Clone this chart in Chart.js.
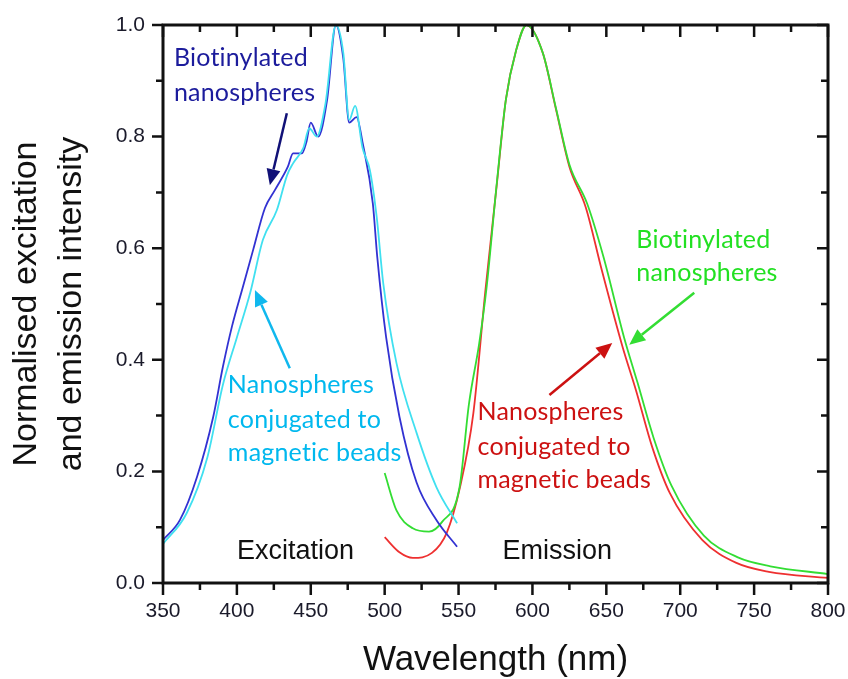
<!DOCTYPE html>
<html>
<head>
<meta charset="utf-8">
<script src="https://cdn.jsdelivr.net/npm/chart.js@4/dist/chart.umd.min.js"></script>
<style>
html,body{margin:0;padding:0;background:#fff;}
#wrap{width:848px;height:679px;}
</style>
</head>
<body>
<div id="wrap"><canvas id="c" width="848" height="679"></canvas></div>
<script>
// excitation spectra
const excBioWl  = [350,361.5,373,384,390.5,396.6,404,411,419,425.7,434.5,438,444,447,450,455,461,467,472,476,481,485,492,495,501,510,521.6,535,549];
const excBioVal = [0.077,0.113,0.19,0.298,0.387,0.459,0.53,0.597,0.672,0.704,0.746,0.77,0.77,0.79,0.825,0.80,0.865,1.0,0.94,0.825,0.835,0.79,0.68,0.584,0.44,0.298,0.18,0.113,0.065];
const excConjWl  = [350,366,380,390.5,400,409,417.6,427,434,438,445,449,454,460,467,472,476,480,485,490,494.6,499,508,521.6,535,549];
const excConjVal = [0.07,0.125,0.225,0.355,0.44,0.52,0.615,0.668,0.731,0.752,0.78,0.815,0.80,0.86,1.0,0.95,0.83,0.855,0.78,0.74,0.656,0.538,0.394,0.269,0.172,0.107];
// emission spectra
const emBioWl  = [500,508,519,530,539,550.7,557,564,569,576,582,589,596,607,616,625,637,648,662,671,682,694,716,739,761,800];
const emBioVal = [0.197,0.13,0.098,0.092,0.11,0.172,0.32,0.43,0.53,0.72,0.866,0.955,1.0,0.95,0.85,0.75,0.68,0.585,0.44,0.36,0.26,0.175,0.085,0.046,0.03,0.016];
const emConjWl  = [500,510,519,532,542,551,560,568,576,582,589,596,607,616,625,636,647,661,670,681,693,715,738,760,800];
const emConjVal = [0.082,0.055,0.045,0.054,0.09,0.172,0.304,0.52,0.717,0.866,0.955,1.0,0.95,0.848,0.746,0.674,0.56,0.423,0.346,0.244,0.161,0.077,0.036,0.02,0.009];

const xTicks = [350,400,450,500,550,600,650,700,750,800];
const yTicks = [0.0,0.2,0.4,0.6,0.8,1.0];

const pts = (xs, ys) => xs.map((x,i)=>({x:x, y:ys[i]}));

// annotation text and arrows, placed in data units
const notes = [
  {lines:['Biotinylated','nanospheres'], x:357.4, y:[0.941,0.878], color:'#1c1c9c'},
  {lines:['Nanospheres','conjugated to','magnetic beads'], x:393.9, y:[0.355,0.292,0.233], color:'#00b8ee'},
  {lines:['Biotinylated','nanospheres'], x:670.3, y:[0.615,0.556], color:'#22e022'},
  {lines:['Nanospheres','conjugated to','magnetic beads'], x:562.8, y:[0.306,0.244,0.185], color:'#cc1111'}
];
const arrows = [
  {from:[433.8,0.842], to:[422.3,0.713], color:'#111177'},
  {from:[435.8,0.385], to:[412.2,0.525], color:'#10b8ee'},
  {from:[709.5,0.52], to:[665.5,0.427], color:'#33dd33'},
  {from:[611.5,0.337], to:[654.0,0.43], color:'#cc1111'}
];
const labels = [
  {text:'Excitation', x:400, y:0.056},
  {text:'Emission', x:579.7, y:0.056}
];

const annoPlugin = {
  id:'anno',
  afterDatasetsDraw(chart){
    const ctx = chart.ctx, xs = chart.scales.x, ys = chart.scales.y;
    ctx.save();
    ctx.textBaseline = 'middle';
    ctx.textAlign = 'left';
    ctx.font = '25px Lato, "Open Sans", sans-serif';
    ctx.letterSpacing = '0.2px';
    notes.forEach(n=>{
      ctx.fillStyle = n.color;
      n.lines.forEach((t,i)=> ctx.fillText(t, xs.getPixelForValue(n.x), ys.getPixelForValue(n.y[i])));
    });
    ctx.letterSpacing = '0px';
    arrows.forEach(a=>{
      const x1 = xs.getPixelForValue(a.from[0]), y1 = ys.getPixelForValue(a.from[1]);
      const x2 = xs.getPixelForValue(a.to[0]), y2 = ys.getPixelForValue(a.to[1]);
      const ang = Math.atan2(y2-y1, x2-x1);
      const hl = 16, hw = 7;
      ctx.strokeStyle = a.color; ctx.fillStyle = a.color; ctx.lineWidth = 2.5;
      ctx.beginPath();
      ctx.moveTo(x1,y1);
      ctx.lineTo(x2 - hl*Math.cos(ang), y2 - hl*Math.sin(ang));
      ctx.stroke();
      ctx.beginPath();
      ctx.moveTo(x2,y2);
      ctx.lineTo(x2 - hl*Math.cos(ang) + hw*Math.sin(ang), y2 - hl*Math.sin(ang) - hw*Math.cos(ang));
      ctx.lineTo(x2 - hl*Math.cos(ang) - hw*Math.sin(ang), y2 - hl*Math.sin(ang) + hw*Math.cos(ang));
      ctx.closePath();
      ctx.fill();
    });
    ctx.fillStyle = '#111';
    ctx.font = '27px "Liberation Sans", Arial, sans-serif';
    labels.forEach(l=> ctx.fillText(l.text, xs.getPixelForValue(l.x), ys.getPixelForValue(l.y)));
    ctx.restore();
  }
};

// frame with major/minor ticks: outward on bottom/left, inward on top/right
const framePlugin = {
  id:'frame',
  afterDraw(chart){
    const ctx = chart.ctx, a = chart.chartArea, xs = chart.scales.x, ys = chart.scales.y;
    ctx.save();
    ctx.strokeStyle = '#111';
    ctx.lineWidth = 3;
    ctx.strokeRect(a.left, a.top, a.right-a.left, a.bottom-a.top);
    ctx.lineWidth = 2.5;
    ctx.beginPath();
    for(let w=350; w<=800; w+=25){
      const px = xs.getPixelForValue(w), len = (w%50===0)?12:7;
      ctx.moveTo(px, a.bottom); ctx.lineTo(px, a.bottom+len);
      ctx.moveTo(px, a.top); ctx.lineTo(px, a.top+len);
    }
    for(let k=0; k<=10; k++){
      const py = ys.getPixelForValue(k/10), len = (k%2===0)?11:7;
      ctx.moveTo(a.left, py); ctx.lineTo(a.left-len, py);
      ctx.moveTo(a.right, py); ctx.lineTo(a.right-len, py);
    }
    ctx.stroke();
    ctx.restore();
  }
};

const lineDs = (label, data, color) => ({
  label: label, data: data, borderColor: color, borderWidth: 1.8,
  pointRadius: 0, showLine: true, fill: false, cubicInterpolationMode: 'monotone'
});

new Chart(document.getElementById('c'), {
  type: 'scatter',
  data: {
    datasets: [
      lineDs('Excitation, nanospheres conjugated to magnetic beads', pts(excConjWl, excConjVal), '#40e0f0'),
      lineDs('Excitation, biotinylated nanospheres', pts(excBioWl, excBioVal), '#3232d2'),
      lineDs('Emission, biotinylated nanospheres', pts(emBioWl, emBioVal), '#33dd33'),
      lineDs('Emission, nanospheres conjugated to magnetic beads', pts(emConjWl, emConjVal), '#ee3030')
    ]
  },
  options: {
    responsive: false,
    animation: false,
    layout: { padding: { left: 0, right: 20, top: 25, bottom: 0 } },
    plugins: { legend: { display: false }, tooltip: { enabled: false } },
    scales: {
      x: {
        type: 'linear', min: 350, max: 800,
        afterBuildTicks: s => { s.ticks = xTicks.map(v=>({value:v})); },
        afterFit: s => { s.height = 96; s.paddingLeft = 0; s.paddingRight = 0; },
        grid: { display: false, drawTicks: false },
        border: { display: false },
        ticks: { padding: 16, color: '#1a1a2a', font: { size: 21, family: '"Liberation Sans", Arial, sans-serif' } },
        title: { display: true, text: 'Wavelength (nm)', color: '#111', padding: { top: 0, bottom: 1 },
                 font: { size: 35, lineHeight: 1.0, family: '"Liberation Sans", Arial, sans-serif' } }
      },
      y: {
        type: 'linear', min: 0, max: 1,
        afterBuildTicks: s => { s.ticks = yTicks.map(v=>({value:v})); },
        afterFit: s => { s.width = 163; s.paddingTop = 0; s.paddingBottom = 0; },
        grid: { display: false, drawTicks: false },
        border: { display: false },
        ticks: { padding: 18, color: '#1a1a2a', callback: v => v.toFixed(1),
                 font: { size: 21, family: '"Liberation Sans", Arial, sans-serif' } },
        title: { display: true, text: ['Normalised excitation','and emission intensity'], color: '#111',
                 padding: { bottom: 0, top: 4 },
                 font: { size: 34, lineHeight: 1.32, family: '"Liberation Sans", Arial, sans-serif' } }
      }
    }
  },
  plugins: [annoPlugin, framePlugin]
});
</script>
</body>
</html>
